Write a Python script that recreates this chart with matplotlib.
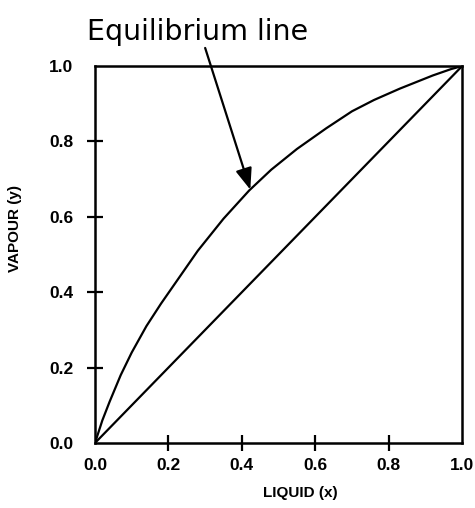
import matplotlib
matplotlib.use("Agg")
import matplotlib.pyplot as plt

# equilibrium curve
liquid_x = [0.0, 0.02, 0.04, 0.07, 0.10, 0.14, 0.18, 0.23, 0.28, 0.35, 0.42,
            0.48, 0.55, 0.63, 0.70, 0.76, 0.83, 0.92, 0.97, 1.0]
vapour_y = [0.0, 0.06, 0.11, 0.18, 0.24, 0.31, 0.37, 0.44, 0.51, 0.595, 0.67,
            0.725, 0.78, 0.835, 0.88, 0.91, 0.94, 0.975, 0.992, 1.0]

# 45 degree reference line
diag = [0.0, 1.0]

ticks = [0.0, 0.2, 0.4, 0.6, 0.8, 1.0]
tick_labels = ["0.0", "0.2", "0.4", "0.6", "0.8", "1.0"]

plt.rcParams["font.family"] = ["Liberation Sans", "DejaVu Sans"]

fig = plt.figure(figsize=(4.75, 5.08), dpi=100)
ax = fig.add_axes([0.2, 0.128, 0.773, 0.742])

ax.plot(liquid_x, vapour_y, color="black", lw=1.6)
ax.plot(diag, diag, color="black", lw=1.6)

ax.set_xlim(0, 1)
ax.set_ylim(0, 1)
ax.set_xticks(ticks)
ax.set_yticks(ticks)
ax.set_xticklabels(tick_labels, fontsize=12.5, fontweight="bold")
ax.set_yticklabels(tick_labels, fontsize=12.5, fontweight="bold")
ax.tick_params(axis="both", direction="inout", length=11, width=1.6)
ax.tick_params(axis="x", pad=5)
ax.tick_params(axis="y", pad=10)

# no tick marks at the corners, only labels
for axis in (ax.xaxis, ax.yaxis):
    t = axis.get_major_ticks()
    t[0].tick1line.set_visible(False)
    t[-1].tick1line.set_visible(False)

for s in ax.spines.values():
    s.set_linewidth(1.8)

ax.set_xlabel("LIQUID (x)", fontsize=11, fontweight="bold")
ax.xaxis.set_label_coords(0.56, -0.115)
ax.set_ylabel("VAPOUR (y)", fontsize=11, fontweight="bold")
ax.yaxis.set_label_coords(-0.2, 0.57)

ax.text(0.28, 1.069, "Equilibrium line", ha="center", va="baseline",
        fontsize=20.5, family=["DejaVu Sans"], clip_on=False)
ax.annotate("", xy=(0.423, 0.672), xytext=(0.30, 1.048),
            annotation_clip=False,
            arrowprops=dict(arrowstyle="-|>,head_length=1.3,head_width=0.5",
                            color="black", lw=1.6, shrinkA=0, shrinkB=0))

fig.savefig("out.png", dpi=100)
